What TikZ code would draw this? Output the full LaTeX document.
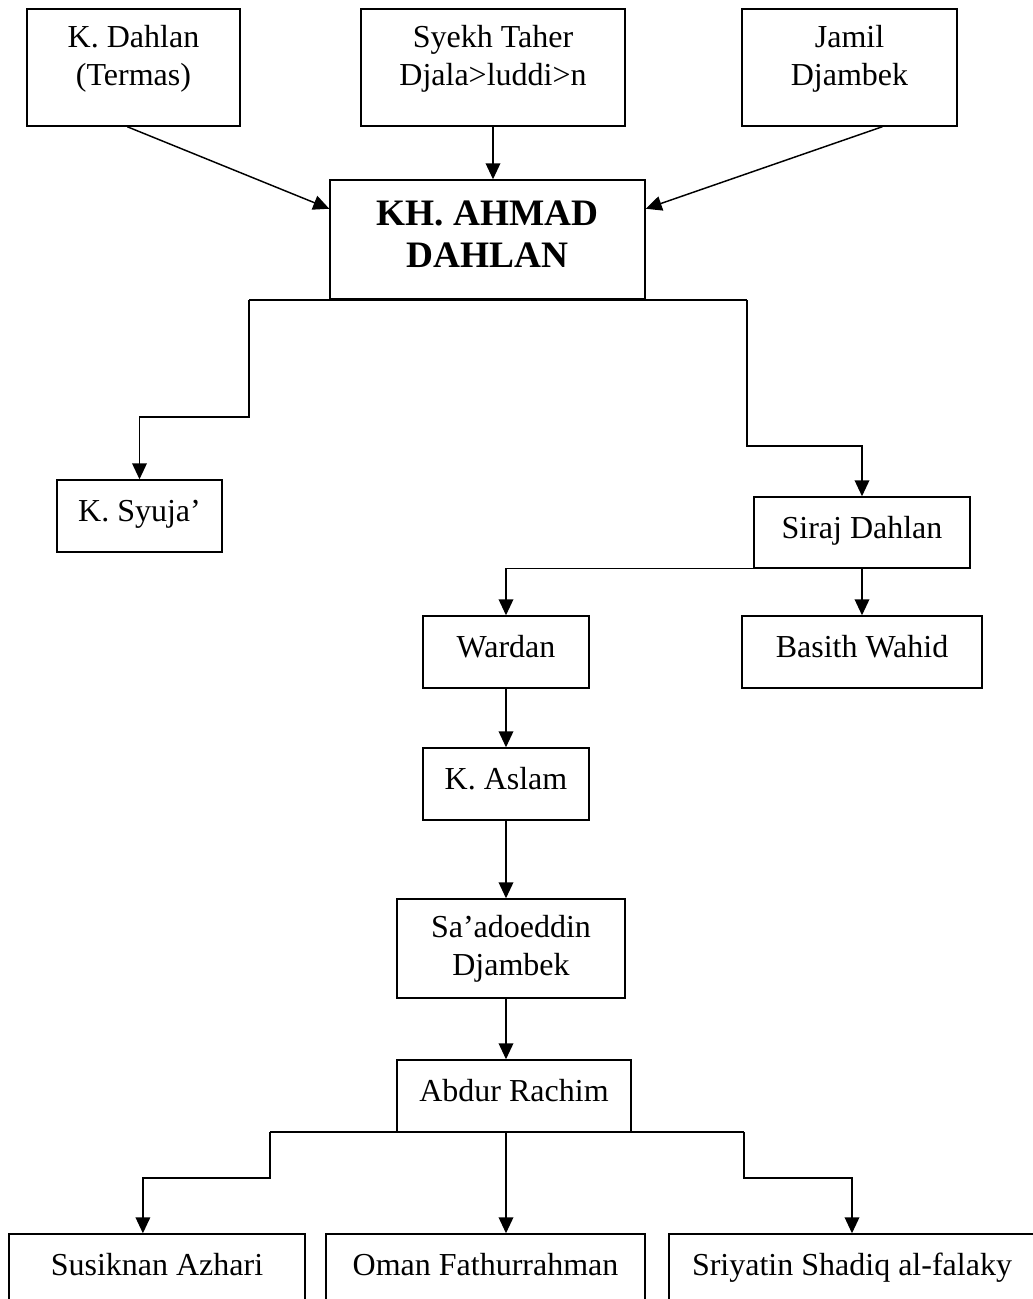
\documentclass[tikz,border=0pt]{standalone}
\usepackage{fontspec}
\setmainfont{Liberation Serif}
\usetikzlibrary{arrows.meta}

\tikzset{every picture/.style={line width=1.1pt}}
\tikzset{
  box/.style={draw, rectangle, inner sep=0pt, align=center, font=\fontsize{24}{28.5}\selectfont},
  oneline/.style={text height=16pt, text depth=7.5pt},
  arr/.style={-{Triangle[length=12pt,width=11pt]}},
}

\begin{document}
\begin{tikzpicture}[x=0.75pt,y=0.75pt,yscale=-1,xscale=1]
\useasboundingbox (0,0) rectangle (1032,1299);

%Shape: Rectangle (teachers)
\draw (133.5,67.5) node (dahlan) [box, minimum width=159.75pt, minimum height=87.75pt, text depth=18pt] {K. Dahlan\\(Termas)};
\draw (493,67.5) node (taher) [box, minimum width=198pt, minimum height=87.75pt, text depth=18pt] {Syekh Taher\\Djala>luddi>n};
\draw (849.5,67.5) node (jamil) [box, minimum width=161.25pt, minimum height=87.75pt, text depth=18pt] {Jamil\\Djambek};
%Shape: Rectangle (centre)
\draw (487.5,239.5) node (kh) [box, minimum width=236.25pt, minimum height=89.25pt, text depth=8pt, font=\fontsize{28}{31.5}\selectfont\bfseries] {KH. AHMAD\\DAHLAN};
%Shape: Rectangle (students)
\draw (139.5,516) node (syuja) [box, oneline, minimum width=123.75pt, minimum height=54pt] {K. Syuja’};
\draw (862,532.5) node (siraj) [box, oneline, minimum width=162pt, minimum height=53.25pt] {Siraj Dahlan};
\draw (506,652) node (wardan) [box, oneline, minimum width=124.5pt, minimum height=54pt] {Wardan};
\draw (862,652) node (basith) [box, oneline, minimum width=180pt, minimum height=54pt] {Basith Wahid};
\draw (506,784) node (aslam) [box, oneline, minimum width=124.5pt, minimum height=54pt] {K. Aslam};
\draw (511,948.5) node (saad) [box, minimum width=171pt, minimum height=74.25pt] {Sa’adoeddin\\Djambek};
\draw (514,1096) node (abdur) [box, oneline, minimum width=175.5pt, minimum height=54pt] {Abdur Rachim};
\draw (157,1270) node (susiknan) [box, oneline, minimum width=222pt, minimum height=54pt] {Susiknan Azhari};
\draw (485.5,1270) node (oman) [box, oneline, minimum width=239.25pt, minimum height=54pt] {Oman Fathurrahman};
\draw (852,1270) node (sriyatin) [box, oneline, minimum width=274.5pt, minimum height=54pt] {Sriyatin Shadiq al-falaky};

%Straight Lines (into KH)
\draw [arr] (dahlan.-96) -- (kh.169);
\draw [arr] (taher.south) -- (taher.south |- kh.north);
\draw [arr] (jamil.-61) -- (kh.11);

%Straight Lines (out of KH)
\coordinate (khL) at (249,300);
\coordinate (khR) at (747,300);
\draw (khL) -- (khR);
\draw [arr] (khL) -- ++(0,117) -| (syuja.north);
\draw [arr] (khR) -- ++(0,146) -| (siraj.north);

%Straight Lines (Siraj Dahlan line)
\draw [arr] (siraj.south) -- (basith.north);
\draw [arr] (siraj.south) -| (wardan.north);
\draw [arr] (wardan) -- (aslam);
\draw [arr] (aslam.south) -- (aslam.south |- saad.north);
\draw [arr] (saad.south -| aslam) -- (abdur.north -| aslam);

%Straight Lines (out of Abdur Rachim)
\coordinate (abL) at (270,1132);
\coordinate (abR) at (744,1132);
\draw (abL) -- (abR);
\draw [arr] (abL) -- ++(0,46) -| (susiknan.111);
\draw [arr] (abR) -- ++(0,46) -| (sriyatin.north);
\draw [arr] (abdur.south -| aslam) -- (oman.north -| aslam);

\end{tikzpicture}
\end{document}
